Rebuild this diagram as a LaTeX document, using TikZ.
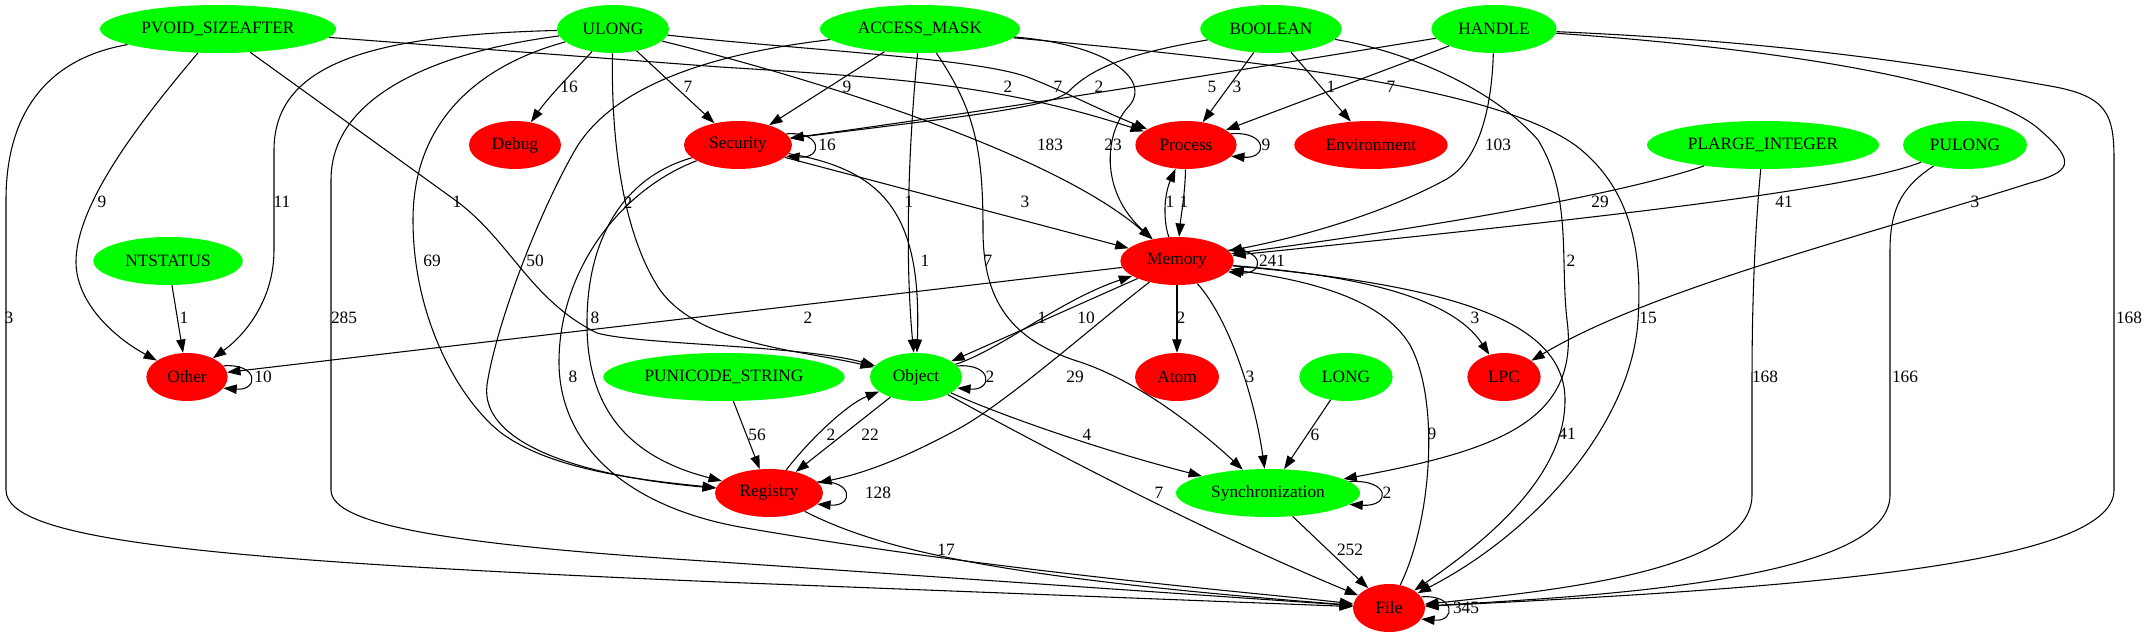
\documentclass[tikz,border=0pt]{standalone}
\usepackage{fontspec}
\setmainfont{Liberation Serif}
\usetikzlibrary{arrows.meta,shapes.geometric}
\definecolor{gvgreen}{RGB}{0,255,0}
\definecolor{gvred}{RGB}{255,0,0}
\begin{document}
\begin{tikzpicture}[x=0.75pt,y=-0.75pt]
\tikzset{gv/.style={ellipse,inner sep=0pt,minimum height=36pt,
font=\fontsize{13pt}{15pt}\selectfont},
type-node/.style={gv,fill=gvgreen},
api-node/.style={gv,fill=gvred},
weight/.style={inner sep=0pt,font=\fontsize{13pt}{15pt}\selectfont},
link/.style={draw,line width=0.8pt,-{Triangle[length=10pt,width=7pt]}}}
\useasboundingbox (0,0) rectangle (2148,639);

% first rank
\node[type-node,minimum width=177pt] (pvoid) at (218,29) {PVOID\_SIZEAFTER};
\node[type-node,minimum width=84pt] (ulong) at (613,29) {ULONG};
\node[type-node,minimum width=150pt] (access) at (920,29) {ACCESS\_MASK};
\node[type-node,minimum width=106pt] (boolean) at (1271,29) {BOOLEAN};
\node[type-node,minimum width=94pt] (handle) at (1494,29) {HANDLE};
% second rank
\node[api-node,minimum width=69pt] (debug) at (515,145) {Debug};
\node[api-node,minimum width=81pt] (security) at (738,145) {Security};
\node[api-node,minimum width=76pt] (process) at (1186,145) {Process};
\node[api-node,minimum width=115pt] (env) at (1371,145) {Environment};
\node[type-node,minimum width=174pt] (plarge) at (1763,145) {PLARGE\_INTEGER};
\node[type-node,minimum width=93pt] (pulong) at (1965,145) {PULONG};
% third rank
\node[type-node,minimum width=112pt] (ntstatus) at (168,261) {NTSTATUS};
\node[api-node,minimum width=85pt] (memory) at (1177,261) {Memory};
% fourth rank
\node[api-node,minimum width=61pt] (other) at (187,377) {Other};
\node[type-node,minimum width=181pt] (punicode) at (724,377) {PUNICODE\_STRING};
\node[type-node,minimum width=69pt] (object) at (916,377) {Object};
\node[api-node,minimum width=63pt] (atom) at (1177,377) {Atom};
\node[type-node,minimum width=70pt] (long) at (1346,377) {LONG};
\node[api-node,minimum width=55pt] (lpc) at (1504,377) {LPC};
% fifth and sixth rank
\node[api-node,minimum width=81pt] (registry) at (769,493) {Registry};
\node[type-node,minimum width=138pt] (sync) at (1268,493) {Synchronization};
\node[api-node,minimum width=54pt] (file) at (1389,608) {File};

% PVOID_SIZEAFTER
\draw[link] (pvoid) .. controls (50,58) and (6,110) .. (6,200) -- (6,490) .. controls (6,540) and (200,560) .. (720,582) -- (file);
\draw[link] (pvoid) .. controls (150,110) and (76,200) .. (76,262) .. controls (76,300) and (110,335) .. (other);
\draw[link] (pvoid) -- (455,200) .. controls (510,240) and (530,300) .. (597,333) .. controls (640,345) and (800,345) .. (object);
\draw[link] (pvoid) -- (720,67) .. controls (900,78) and (1000,85) .. (process);
% ULONG
\draw[link] (ulong) .. controls (380,35) and (274,60) .. (274,150) -- (274,250) .. controls (274,300) and (245,335) .. (other);
\draw[link] (ulong) .. controls (450,50) and (331,90) .. (331,180) -- (331,490) .. controls (331,525) and (450,545) .. (720,562) -- (file);
\draw[link] (ulong) .. controls (480,65) and (413,120) .. (413,220) .. controls (413,320) and (460,400) .. (500,432) .. controls (550,470) and (640,480) .. (registry);
\draw[link] (ulong) .. controls (575,70) and (550,95) .. (debug);
\draw[link] (ulong) -- (security);
\draw[link] (ulong) .. controls (611,130) and (620,230) .. (660,290) .. controls (700,345) and (800,350) .. (object);
\draw[link] (ulong) .. controls (800,50) and (980,58) .. (1030,78) .. controls (1070,94) and (1100,110) .. (process);
\draw[link] (ulong) .. controls (800,75) and (1050,150) .. (memory);
% ACCESS_MASK
\draw[link] (access) .. controls (700,55) and (610,90) .. (575,150) .. controls (535,220) and (495,330) .. (487,385) .. controls (480,440) and (570,475) .. (registry);
\draw[link] (access) -- (security);
\draw[link] (access) .. controls (908,150) and (905,260) .. (object);
\draw[link] (access) .. controls (975,110) and (983,150) .. (983,230) .. controls (983,300) and (1010,340) .. (1080,362) .. controls (1140,382) and (1200,430) .. (sync);
\draw[link] (access) .. controls (1110,45) and (1150,80) .. (1130,105) .. controls (1105,130) and (1098,190) .. (memory);
\draw[link] (access) .. controls (1250,60) and (1490,85) .. (1575,145) .. controls (1635,190) and (1642,260) .. (1638,320) .. controls (1632,420) and (1540,530) .. (file);
% BOOLEAN
\draw[link] (boolean) .. controls (1120,55) and (1090,70) .. (1068,92) .. controls (1050,108) and (950,118) .. (security);
\draw[link] (boolean) -- (process);
\draw[link] (boolean) -- (env);
\draw[link] (boolean) .. controls (1400,50) and (1490,85) .. (1538,140) .. controls (1572,195) and (1560,260) .. (1567,320) .. controls (1580,420) and (1500,450) .. (sync);
% HANDLE
\draw[link] (handle) .. controls (1300,60) and (1000,110) .. (security);
\draw[link] (handle) -- (process);
\draw[link] (handle) .. controls (1492,100) and (1482,160) .. (1445,180) .. controls (1380,215) and (1300,237) .. (memory);
\draw[link] (handle) .. controls (1800,50) and (1990,85) .. (2040,130) .. controls (2078,163) and (2070,172) .. (2030,183) .. controls (1850,240) and (1650,290) .. (lpc);
\draw[link] (handle) .. controls (1800,42) and (1960,70) .. (2050,86) .. controls (2108,96) and (2114,115) .. (2114,160) -- (2114,490) .. controls (2114,565) and (1800,588) .. (file);
% PLARGE_INTEGER, PULONG
\draw[link] (plarge) .. controls (1650,185) and (1500,218) .. (memory);
\draw[link] (plarge) .. controls (1755,230) and (1752,300) .. (1752,380) -- (1752,495) .. controls (1752,570) and (1560,590) .. (file);
\draw[link] (pulong) .. controls (1850,190) and (1600,218) .. (memory);
\draw[link] (pulong) .. controls (1905,185) and (1890,205) .. (1890,250) -- (1890,495) .. controls (1890,580) and (1600,596) .. (file);
% NTSTATUS, PUNICODE_STRING, LONG
\draw[link] (ntstatus) -- (other);
\draw[link] (punicode) -- (registry);
\draw[link] (long) -- (sync);
% Security
\draw[link] (security) .. controls (885,170) and (922,215) .. (object);
\draw[link] (security) -- (memory);
\draw[link] (security) .. controls (630,175) and (588,230) .. (587,320) .. controls (586,400) and (620,455) .. (registry);
\draw[link] (security) .. controls (620,190) and (560,270) .. (559,360) .. controls (558,440) and (620,505) .. (740,527) .. controls (1000,572) and (1250,592) .. (file);
% Memory and Process
\draw[link] (memory) .. controls (1163,220) and (1164,195) .. (process);
\draw[link] (process) .. controls (1185,195) and (1181,215) .. (memory);
\draw[link] (memory) -- (other);
\draw[link] (memory) -- (object);
\draw[link] (memory) -- (atom);
\draw[link] (memory) .. controls (1100,320) and (1010,400) .. (960,428) .. controls (910,455) and (870,472) .. (registry);
\draw[link] (memory) .. controls (1230,320) and (1255,400) .. (sync);
\draw[link] (memory) .. controls (1350,275) and (1450,295) .. (lpc);
\draw[link] (memory) .. controls (1450,285) and (1565,320) .. (1565,400) .. controls (1565,480) and (1480,545) .. (file);
\draw[link] (file) .. controls (1432,520) and (1440,400) .. (1410,345) .. controls (1380,295) and (1300,280) .. (memory);
% Object, Registry, Synchronization
\draw[link] (object) .. controls (1000,350) and (1060,300) .. (memory);
\draw[link] (registry) .. controls (805,445) and (845,405) .. (object);
\draw[link] (object) -- (registry);
\draw[link] (object) .. controls (1000,415) and (1100,450) .. (sync);
\draw[link] (object) .. controls (1030,440) and (1200,530) .. (file);
\draw[link] (registry) .. controls (880,550) and (1000,578) .. (file);
\draw[link] (sync) -- (file);
% self loops
\draw[link] (other.17) .. controls (259,363) and (259,391) .. (other.-17);
\draw[link] (security.13) .. controls (823,131) and (823,159) .. (security.-13);
\draw[link] (process.14) .. controls (1268,131) and (1268,159) .. (process.-14);
\draw[link] (memory.12) .. controls (1265,247) and (1265,275) .. (memory.-12);
\draw[link] (object.15) .. controls (993,363) and (993,391) .. (object.-15);
\draw[link] (registry.13) .. controls (854,479) and (854,507) .. (registry.-13);
\draw[link] (sync.8) .. controls (1391,479) and (1391,507) .. (sync.-8);
\draw[link] (file.19) .. controls (1456,594) and (1456,622) .. (file.-19);

% counts
\node[weight] (w-pvoid-file) at (9,318) {3};
\node[weight] (w-pvoid-other) at (102,202) {9};
\node[weight] (w-pvoid-object) at (457,202) {1};
\node[weight] (w-pvoid-process) at (1008,87) {2};
\node[weight] (w-ulong-other) at (282,202) {11};
\node[weight] (w-ulong-file) at (344,318) {285};
\node[weight] (w-ulong-registry) at (432,261) {69};
\node[weight] (w-ulong-debug) at (569,87) {16};
\node[weight] (w-ulong-security) at (688,87) {7};
\node[weight] (w-ulong-object) at (628,203) {2};
\node[weight] (w-ulong-process) at (1058,87) {7};
\node[weight] (w-ulong-memory) at (1050,145) {183};
\node[weight] (w-access-registry) at (535,261) {50};
\node[weight] (w-access-security) at (847,87) {9};
\node[weight] (w-access-object) at (909,202) {1};
\node[weight] (w-access-sync) at (988,261) {7};
\node[weight] (w-access-memory) at (1113,145) {23};
\node[weight] (w-access-file) at (1648,318) {15};
\node[weight] (w-boolean-security) at (1099,87) {2};
\node[weight] (w-boolean-process) at (1237,87) {3};
\node[weight] (w-boolean-env) at (1331,87) {1};
\node[weight] (w-boolean-sync) at (1571,261) {2};
\node[weight] (w-handle-security) at (1212,87) {5};
\node[weight] (w-handle-process) at (1391,87) {7};
\node[weight] (w-handle-memory) at (1498,145) {103};
\node[weight] (w-handle-lpc) at (1975,202) {3};
\node[weight] (w-handle-file) at (2129,318) {168};
\node[weight] (w-plarge-memory) at (1600,202) {29};
\node[weight] (w-plarge-file) at (1765,377) {168};
\node[weight] (w-pulong-memory) at (1784,202) {41};
\node[weight] (w-pulong-file) at (1905,377) {166};
\node[weight] (w-ntstatus-other) at (184,318) {1};
\node[weight] (w-punicode-registry) at (757,435) {56};
\node[weight] (w-long-sync) at (1315,435) {6};
\node[weight] (w-security-object) at (925,261) {1};
\node[weight] (w-security-memory) at (1025,202) {3};
\node[weight] (w-security-registry) at (595,318) {8};
\node[weight] (w-security-file) at (573,377) {8};
\node[weight] (w-memory-process) at (1170,202) {1};
\node[weight] (w-process-memory) at (1184,202) {1};
\node[weight] (w-memory-other) at (808,318) {2};
\node[weight] (w-memory-object) at (1042,318) {1};
\node[weight] (w-memory-atom) at (1181,318) {2};
\node[weight] (w-memory-registry) at (1075,377) {29};
\node[weight] (w-memory-sync) at (1250,377) {3};
\node[weight] (w-memory-lpc) at (1475,318) {3};
\node[weight] (w-memory-file) at (1567,434) {41};
\node[weight] (w-file-memory) at (1432,434) {9};
\node[weight] (w-object-memory) at (1086,318) {10};
\node[weight] (w-registry-object) at (831,435) {2};
\node[weight] (w-object-registry) at (870,435) {22};
\node[weight] (w-object-sync) at (1087,435) {4};
\node[weight] (w-object-file) at (1159,493) {7};
\node[weight] (w-registry-file) at (946,550) {17};
\node[weight] (w-sync-file) at (1350,550) {252};
\node[weight] (w-other-loop) at (263,377) {10};
\node[weight] (w-security-loop) at (827,145) {16};
\node[weight] (w-process-loop) at (1266,145) {9};
\node[weight] (w-memory-loop) at (1272,261) {241};
\node[weight] (w-object-loop) at (990,377) {2};
\node[weight] (w-registry-loop) at (878,493) {128};
\node[weight] (w-sync-loop) at (1387,493) {2};
\node[weight] (w-file-loop) at (1466,608) {345};
\end{tikzpicture}
\end{document}
